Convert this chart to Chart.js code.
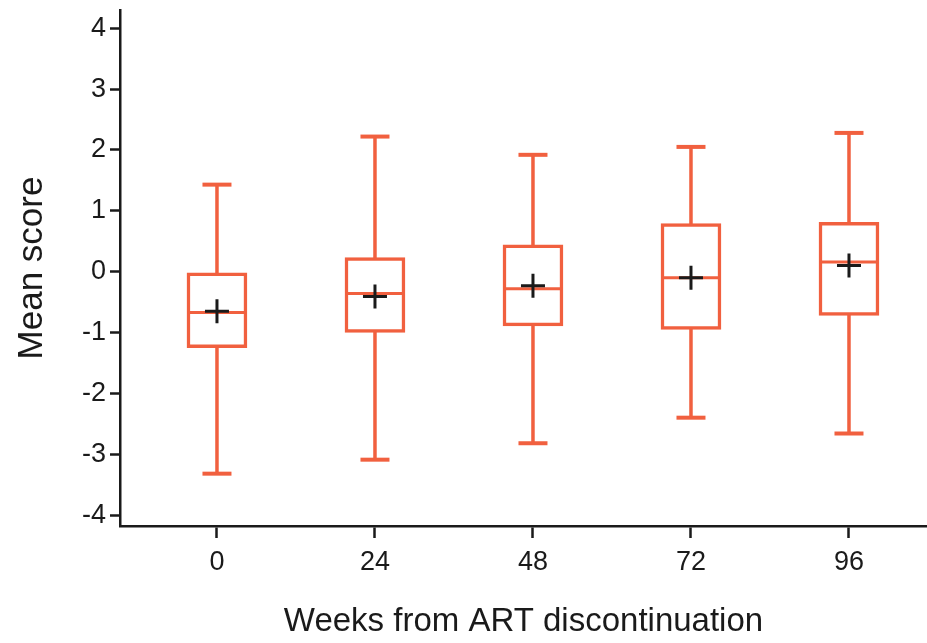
<!DOCTYPE html>
<html>
<head>
<meta charset="utf-8">
<script src="https://cdn.jsdelivr.net/npm/chart.js@4.4.1/dist/chart.umd.min.js"></script>
<style>
  html, body { margin: 0; padding: 0; background: #fff; }
  #wrap { width: 927px; height: 643px; position: relative; }
</style>
</head>
<body>
<div id="wrap"><canvas id="chart"></canvas></div>
<script>
// Box plot: weeks from ART discontinuation vs mean score.
const weeks   = [0, 24, 48, 72, 96];
const whiskLo = [-3.32, -3.09, -2.82, -2.40, -2.66];
const q1      = [-1.25, -1.00, -0.89, -0.95, -0.72];
const medians = [-0.67, -0.36, -0.28, -0.10, 0.16];
const q3      = [-0.02, 0.23, 0.44, 0.79, 0.81];
const whiskHi = [1.43, 2.22, 1.92, 2.05, 2.28];
const means   = [-0.65, -0.41, -0.23, -0.10, 0.10];
const yTicks  = [-4, -3, -2, -1, 0, 1, 2, 3, 4];

const ORANGE = '#f1603f';
const INK = '#1a1a1a';
const FONT = "'Liberation Sans', Arial, sans-serif";

// whisker lines, broken between groups by a null point
const whiskerPts = [];
weeks.forEach((w, i) => {
  whiskerPts.push({ x: w, y: whiskLo[i] }, { x: w, y: whiskHi[i] }, { x: w, y: null });
});
const capPts = weeks.flatMap((w, i) => [{ x: w, y: whiskLo[i] }, { x: w, y: whiskHi[i] }]);

new Chart(document.getElementById('chart').getContext('2d'), {
  type: 'bar',
  data: {
    datasets: [
      {
        type: 'line',
        label: 'whiskers',
        data: whiskerPts,
        borderColor: ORANGE,
        borderWidth: 3.5,
        pointRadius: 0,
        spanGaps: false,
        order: 5,
      },
      {
        type: 'scatter',
        label: 'caps',
        data: capPts,
        pointStyle: 'line',
        pointRadius: 14.5,
        borderColor: ORANGE,
        borderWidth: 4,
        order: 4,
      },
      {
        type: 'bar',
        label: 'IQR',
        data: weeks.map((w, i) => ({ x: w, y: [q1[i], q3[i]] })),
        backgroundColor: '#ffffff',
        borderColor: ORANGE,
        borderWidth: 3.5,
        borderSkipped: false,
        barThickness: 60,
        order: 3,
      },
      {
        type: 'scatter',
        label: 'median',
        data: weeks.map((w, i) => ({ x: w, y: medians[i] })),
        pointStyle: 'line',
        pointRadius: 29,
        borderColor: ORANGE,
        borderWidth: 3,
        order: 2,
      },
      {
        type: 'scatter',
        label: 'mean',
        data: weeks.map((w, i) => ({ x: w, y: means[i] })),
        pointStyle: 'cross',
        pointRadius: 12,
        borderColor: INK,
        borderWidth: 3,
        order: 1,
      },
    ],
  },
  options: {
    responsive: true,
    maintainAspectRatio: false,
    animation: false,
    events: [],
    layout: { autoPadding: false, padding: { top: 10, right: 0, left: 0, bottom: 0 } },
    plugins: { legend: { display: false }, tooltip: { enabled: false } },
    scales: {
      x: {
        type: 'linear',
        min: -14.73,
        max: 107.85,
        offset: false,
        afterBuildTicks: (s) => { s.ticks = weeks.map(v => ({ value: v })); },
        afterFit: (s) => { s.height = 117; s.paddingLeft = 0; s.paddingRight = 0; },
        grid: { offset: false, drawOnChartArea: false, tickLength: 12, tickWidth: 2.5, tickColor: INK },
        border: { display: true, color: INK, width: 2.5 },
        ticks: { color: INK, padding: 8, font: { family: FONT, size: 27 } },
        title: { display: true, text: 'Weeks from ART discontinuation', color: INK, padding: 1, font: { family: FONT, size: 33 } },
      },
      y: {
        type: 'linear',
        min: -4.18,
        max: 4.3,
        afterBuildTicks: (s) => { s.ticks = yTicks.map(v => ({ value: v })); },
        afterFit: (s) => { s.width = 120; s.paddingTop = 0; s.paddingBottom = 0; },
        grid: { drawOnChartArea: false, tickLength: 10, tickWidth: 2.5, tickColor: INK },
        border: { display: true, color: INK, width: 2.5 },
        ticks: { color: INK, padding: 4, font: { family: FONT, size: 27 } },
        title: { display: true, text: 'Mean score', color: INK, padding: 11, font: { family: FONT, size: 35 } },
      },
    },
  },
});
</script>
</body>
</html>
